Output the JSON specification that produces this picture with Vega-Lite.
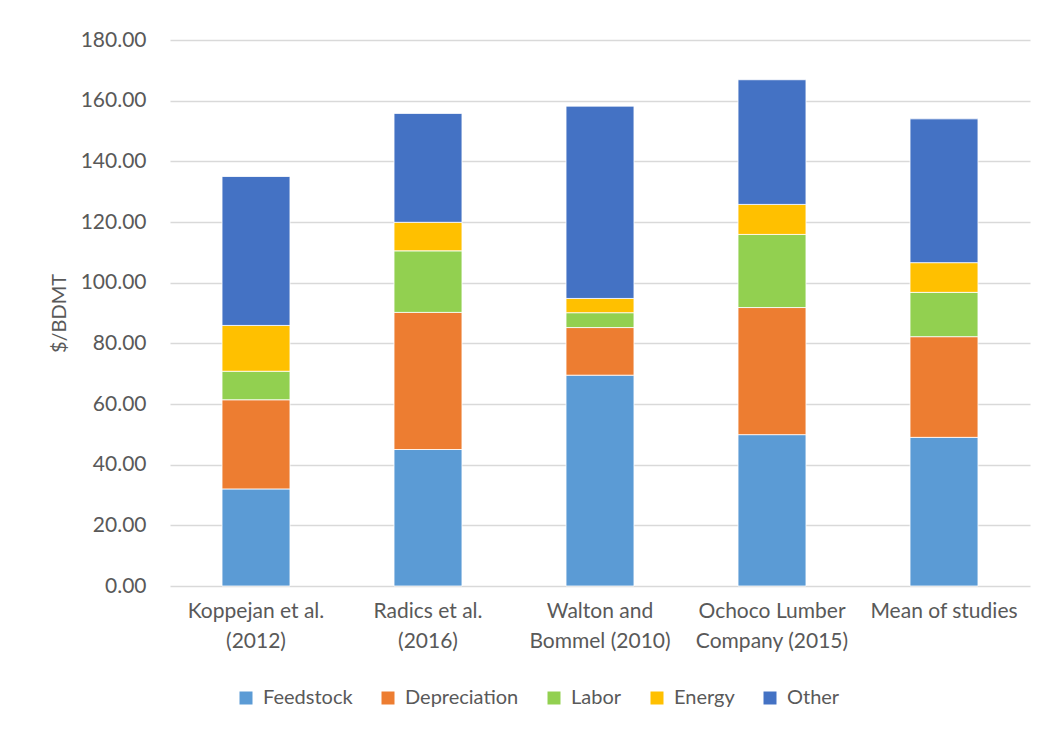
{
  "$schema": "https://vega.github.io/schema/vega-lite/v6.json",
  "width": 860,
  "height": 546,
  "autosize": {"type": "none"},
  "padding": {"left": 170, "top": 40, "right": 17, "bottom": 150},
  "background": "white",
  "config": {
    "view": {"stroke": null},
    "font": "Lato",
    "axis": {"labelFont": "Lato", "titleFont": "Lato", "labelColor": "#595959", "titleColor": "#595959"},
    "legend": {"labelFont": "Lato", "labelColor": "#595959"}
  },
  "data": {
    "values": [
      {"study": "Koppejan et al. (2012)", "component": "Feedstock", "rank": 1, "value": 32.0},
      {"study": "Koppejan et al. (2012)", "component": "Depreciation", "rank": 2, "value": 29.4},
      {"study": "Koppejan et al. (2012)", "component": "Labor", "rank": 3, "value": 9.4},
      {"study": "Koppejan et al. (2012)", "component": "Energy", "rank": 4, "value": 15.1},
      {"study": "Koppejan et al. (2012)", "component": "Other", "rank": 5, "value": 49.1},
      {"study": "Radics et al. (2016)", "component": "Feedstock", "rank": 1, "value": 45.0},
      {"study": "Radics et al. (2016)", "component": "Depreciation", "rank": 2, "value": 45.2},
      {"study": "Radics et al. (2016)", "component": "Labor", "rank": 3, "value": 20.3},
      {"study": "Radics et al. (2016)", "component": "Energy", "rank": 4, "value": 9.4},
      {"study": "Radics et al. (2016)", "component": "Other", "rank": 5, "value": 35.9},
      {"study": "Walton and Bommel (2010)", "component": "Feedstock", "rank": 1, "value": 69.5},
      {"study": "Walton and Bommel (2010)", "component": "Depreciation", "rank": 2, "value": 15.7},
      {"study": "Walton and Bommel (2010)", "component": "Labor", "rank": 3, "value": 4.9},
      {"study": "Walton and Bommel (2010)", "component": "Energy", "rank": 4, "value": 4.7},
      {"study": "Walton and Bommel (2010)", "component": "Other", "rank": 5, "value": 63.4},
      {"study": "Ochoco Lumber Company (2015)", "component": "Feedstock", "rank": 1, "value": 49.9},
      {"study": "Ochoco Lumber Company (2015)", "component": "Depreciation", "rank": 2, "value": 41.9},
      {"study": "Ochoco Lumber Company (2015)", "component": "Labor", "rank": 3, "value": 24.1},
      {"study": "Ochoco Lumber Company (2015)", "component": "Energy", "rank": 4, "value": 9.9},
      {"study": "Ochoco Lumber Company (2015)", "component": "Other", "rank": 5, "value": 41.1},
      {"study": "Mean of studies", "component": "Feedstock", "rank": 1, "value": 49.0},
      {"study": "Mean of studies", "component": "Depreciation", "rank": 2, "value": 33.2},
      {"study": "Mean of studies", "component": "Labor", "rank": 3, "value": 14.6},
      {"study": "Mean of studies", "component": "Energy", "rank": 4, "value": 9.8},
      {"study": "Mean of studies", "component": "Other", "rank": 5, "value": 47.4}
    ]
  },
  "mark": {"type": "bar", "stroke": "white", "strokeWidth": 0.8},
  "encoding": {
    "x": {
      "field": "study",
      "type": "nominal",
      "sort": null,
      "scale": {"paddingInner": 0.605, "paddingOuter": 0.3025},
      "axis": {
        "title": null,
        "labelAngle": 0,
        "labelFontSize": 21,
        "labelLineHeight": 30,
        "labelPadding": 14,
        "labelBaseline": "top",
        "domain": false,
        "ticks": false,
        "labelExpr": "datum.value == 'Koppejan et al. (2012)' ? ['Koppejan et al.', '(2012)'] : datum.value == 'Radics et al. (2016)' ? ['Radics et al.', '(2016)'] : datum.value == 'Walton and Bommel (2010)' ? ['Walton and', 'Bommel (2010)'] : datum.value == 'Ochoco Lumber Company (2015)' ? ['Ochoco Lumber', 'Company (2015)'] : datum.value"
      }
    },
    "y": {
      "field": "value",
      "type": "quantitative",
      "stack": "zero",
      "scale": {"domain": [0, 180], "nice": false},
      "axis": {
        "title": "$/BDMT",
        "titleFontSize": 20,
        "titleFontWeight": "normal",
        "titlePadding": 11,
        "values": [0, 20, 40, 60, 80, 100, 120, 140, 160, 180],
        "format": ".2f",
        "labelFontSize": 21,
        "labelPadding": 24,
        "domain": false,
        "ticks": false,
        "gridColor": "#d9d9d9",
        "gridWidth": 1.5
      }
    },
    "color": {
      "field": "component",
      "type": "nominal",
      "sort": ["Feedstock", "Depreciation", "Labor", "Energy", "Other"],
      "scale": {
        "domain": ["Feedstock", "Depreciation", "Labor", "Energy", "Other"],
        "range": ["#5B9BD5", "#ED7D31", "#92D050", "#FFC000", "#4472C4"]
      },
      "legend": {
        "title": null,
        "orient": "none",
        "direction": "horizontal",
        "legendX": 66,
        "legendY": 648,
        "symbolType": "square",
        "symbolSize": 169,
        "symbolStrokeWidth": 0,
        "labelFontSize": 20,
        "labelOffset": 7,
        "columnPadding": 25
      }
    },
    "order": {"field": "rank", "type": "quantitative", "sort": "ascending"}
  }
}
